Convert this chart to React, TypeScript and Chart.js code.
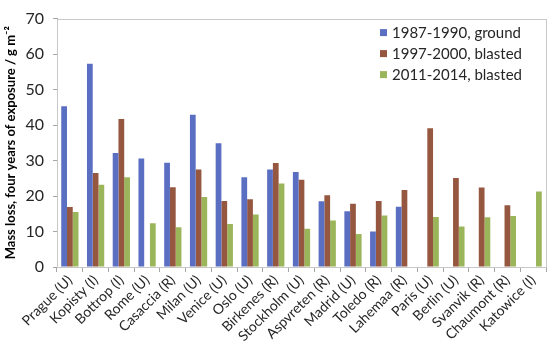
import { useEffect, useRef } from 'react';
import { Chart, registerables } from 'chart.js';

Chart.register(...registerables);

const categories = [
  'Prague (U)', 'Kopisty (I)', 'Bottrop (I)', 'Rome (U)', 'Casaccia (R)', 'Milan (U)',
  'Venice (U)', 'Oslo (U)', 'Birkenes (R)', 'Stockholm (U)', 'Aspvreten (R)', 'Madrid (U)',
  'Toledo (R)', 'Lahemaa (R)', 'Paris (U)', 'Berlin (U)', 'Svanvik (R)', 'Chaumont (R)', 'Katowice (I)',
];

const seriesLabels = ['1987-1990, ground', '1997-2000, blasted', '2011-2014, blasted'];

const values1987 = [45.3, 57.3, 32.1, 30.6, 29.4, 42.9, 34.9, 25.3, 27.5, 26.8, 18.5, 15.7, 10.0, 17.0, null, null, null, null, null];
const values1997 = [16.9, 26.5, 41.7, null, 22.5, 27.5, 18.6, 19.1, 29.3, 24.6, 20.2, 17.8, 18.6, 21.7, 39.1, 25.1, 22.4, 17.4, null];
const values2011 = [15.5, 23.2, 25.3, 12.3, 11.2, 19.7, 12.1, 14.8, 23.5, 10.8, 13.1, 9.3, 14.5, null, 14.1, 11.4, 14.0, 14.4, 21.3];

const yTickValues = [0, 10, 20, 30, 40, 50, 60, 70];

const seriesColors = ['#5B6FC2', '#95573F', '#9BB55A'];

const FONT = 'Lato, "Liberation Sans", Arial, sans-serif';
const TEXT = '#262626';

const insideLegend = {
  id: 'insideLegend',
  afterDraw(chart: any) {
    const { ctx, chartArea } = chart;
    ctx.save();
    ctx.font = `15px ${FONT}`;
    ctx.textBaseline = 'middle';
    ctx.textAlign = 'left';
    chart.data.datasets.forEach((ds: any, i: number) => {
      const x = chartArea.right - 166;
      const y = chartArea.top + 14 + i * 21;
      ctx.fillStyle = ds.backgroundColor;
      ctx.fillRect(x, y - 3.5, 7, 7);
      ctx.fillStyle = TEXT;
      ctx.fillText(ds.label, x + 12, y + 0.5);
    });
    ctx.restore();
  },
};

const plotBorder = {
  id: 'plotBorder',
  beforeDatasetsDraw(chart: any) {
    const { ctx, chartArea } = chart;
    ctx.save();
    ctx.strokeStyle = '#C8C8C8';
    ctx.lineWidth = 1;
    ctx.strokeRect(
      Math.round(chartArea.left) + 0.5,
      Math.round(chartArea.top) + 0.5,
      Math.round(chartArea.right - chartArea.left),
      Math.round(chartArea.bottom - chartArea.top),
    );
    ctx.restore();
  },
};

export default function App() {
  const ref = useRef<HTMLCanvasElement | null>(null);

  useEffect(() => {
    if (!ref.current) return;
    const data = [values1987, values1997, values2011];
    const chart = new Chart(ref.current, {
      type: 'bar',
      data: {
        labels: categories,
        datasets: seriesLabels.map((label, i) => ({
          label,
          data: data[i] as any,
          backgroundColor: seriesColors[i],
          borderWidth: 0,
          categoryPercentage: 0.67,
          barPercentage: 1.0,
        })),
      },
      options: {
        responsive: false,
        animation: false,
        devicePixelRatio: 1,
        layout: { padding: { top: 7, right: 4, left: 0, bottom: 0 } },
        plugins: {
          legend: { display: false },
          tooltip: { enabled: false },
        },
        scales: {
          x: {
            grid: {
              display: true,
              drawOnChartArea: false,
              drawTicks: true,
              tickLength: 5,
              color: '#A6A6A6',
              offset: true,
            },
            border: { color: '#A6A6A6' },
            ticks: {
              minRotation: 45,
              maxRotation: 45,
              autoSkip: false,
              color: TEXT,
              font: { family: FONT, size: 14 },
              padding: 0,
            },
            afterFit(scale: any) {
              scale.height = 91;
            },
          },
          y: {
            min: 0,
            max: 70,
            afterBuildTicks(scale: any) {
              scale.ticks = yTickValues.map((v) => ({ value: v }));
            },
            grid: {
              display: true,
              drawOnChartArea: false,
              drawTicks: true,
              tickLength: 4,
              color: '#A6A6A6',
            },
            border: { color: '#A6A6A6' },
            ticks: {
              color: TEXT,
              font: { family: FONT, size: 16 },
              padding: 9,
            },
            title: {
              display: true,
              text: 'Mass loss, four years of exposure / g m⁻²',
              color: '#000',
              font: { family: FONT, size: 13, weight: 'bold' },
              padding: { top: 3, bottom: 0 },
            },
            afterFit(scale: any) {
              scale.width = 57;
            },
          },
        },
      },
      plugins: [plotBorder, insideLegend],
    });
    return () => chart.destroy();
  }, []);

  return (
    <div style={{ position: 'fixed', left: 0, top: 0, width: 550, height: 358, background: '#fff' }}>
      <canvas ref={ref} width={550} height={358} style={{ width: 550, height: 358 }} />
    </div>
  );
}
